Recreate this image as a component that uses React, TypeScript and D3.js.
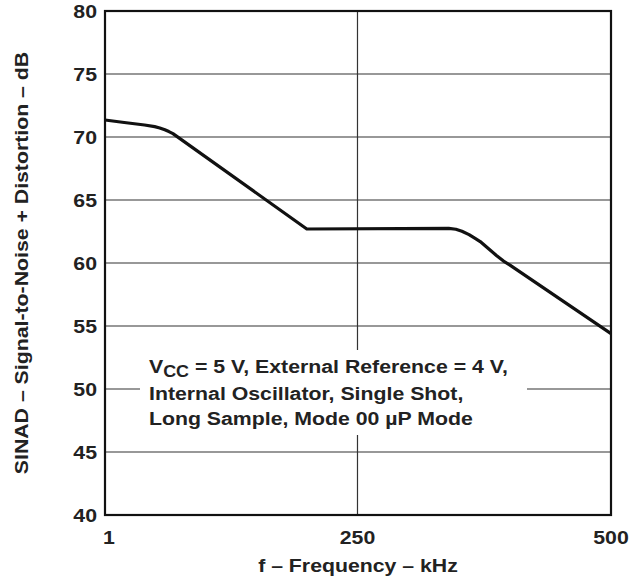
import React from "react";
import * as d3 from "d3";

const freqKHz = [1, 20, 40, 50, 55, 60, 64, 68, 200, 340, 347, 353, 360, 366, 371, 379, 387, 394, 400, 500];
const sinadDb = [71.35, 71.15, 70.95, 70.82, 70.72, 70.57, 70.43, 70.27, 62.7, 62.75, 62.68, 62.52, 62.25, 61.95, 61.7, 61.15, 60.6, 60.15, 59.85, 54.4];
const xTicks = [1, 250, 500];
const yTicks = [40, 45, 50, 55, 60, 65, 70, 75, 80];
const noteLines = ["= 5 V, External Reference = 4 V,", "Internal Oscillator, Single Shot,", "Long Sample, Mode 00 \u00B5P Mode"];

const W = 629, H = 583;
const L = 105, R = 611, T = 11, B = 515;
const FONT = "'Liberation Sans', Arial, Helvetica, sans-serif";
const FS = 19;
const SX = 1.12;

function Txt({ x, y, anchor = "start", rotate = 0, children, size = FS }: any) {
  return (
    <text
      transform={`translate(${x},${y}) rotate(${rotate}) scale(${SX},1)`}
      textAnchor={anchor}
      fontFamily={FONT}
      fontWeight="bold"
      fontSize={size}
      fill="#222"
    >
      {children}
    </text>
  );
}

export default function App() {
  const x = d3.scaleLinear().domain([1, 500]).range([L, R]);
  const y = d3.scaleLinear().domain([40, 80]).range([B, T]);
  const line = d3
    .line<number>()
    .x((_, i) => x(freqKHz[i]))
    .y((d) => y(d))
    .curve(d3.curveLinear);

  return (
    <svg width={W} height={H} style={{ position: "absolute", left: 0, top: 0, background: "#fff" }}>
      <rect x={0} y={0} width={W} height={H} fill="#fff" />
      {yTicks.slice(1, -1).map((t) => (
        <line key={t} x1={L} x2={R} y1={y(t)} y2={y(t)} stroke="#333" strokeWidth={1.2} />
      ))}
      <line x1={x(250)} x2={x(250)} y1={T} y2={B} stroke="#333" strokeWidth={1.2} />
      <rect x={140} y={350} width={387} height={85} fill="#fff" />
      <path d={line(sinadDb) || ""} fill="none" stroke="#111" strokeWidth={3.2} strokeLinejoin="round" />
      <rect x={L} y={T} width={R - L} height={B - T} fill="none" stroke="#111" strokeWidth={2.2} />
      {yTicks.map((t) => (
        <Txt key={t} x={97} y={y(t) + 7} anchor="end">
          {t}
        </Txt>
      ))}
      {xTicks.map((t) => (
        <Txt key={t} x={x(t) + (t === 1 ? 4 : 0)} y={544} anchor="middle">
          {t}
        </Txt>
      ))}
      <Txt x={358} y={572} anchor="middle">f – Frequency – kHz</Txt>
      <Txt x={28} y={263} anchor="middle" rotate={-90}>
        SINAD – Signal-to-Noise + Distortion – dB
      </Txt>
      <text transform={`translate(149,372.5) scale(${SX},1)`} fontFamily={FONT} fontWeight="bold" fontSize={FS} fill="#222">
        V<tspan fontSize={16} dy={4.5}>CC</tspan>
        <tspan dy={-4.5}> {noteLines[0]}</tspan>
      </text>
      <Txt x={149} y={399.5}>{noteLines[1]}</Txt>
      <Txt x={149} y={425}>{noteLines[2]}</Txt>
    </svg>
  );
}
